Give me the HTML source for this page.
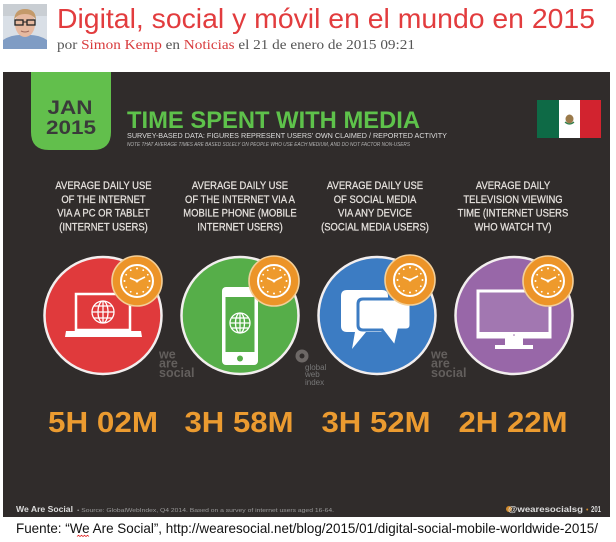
<!DOCTYPE html>
<html><head><meta charset="utf-8"><style>
html,body{margin:0;padding:0;background:#fff;}
svg{display:block;}
</style></head><body>
<svg width="616" height="542" viewBox="0 0 616 542" xmlns="http://www.w3.org/2000/svg" font-family="'Liberation Sans', sans-serif">
<rect x="0" y="0" width="616" height="542" fill="#ffffff"/>
<!-- avatar -->
<g>
<rect x="3" y="4" width="44" height="45" fill="#d9dfe6"/>
<rect x="3" y="4" width="44" height="12" fill="#c9ced3"/>
<path d="M3 49 L3 40 Q12 34 25 35 Q38 34 47 40 L47 49 Z" fill="#7f9cc4"/>
<ellipse cx="25" cy="24" rx="10" ry="13" fill="#e6b9a0"/>
<path d="M14 20 Q15 9 25 9 Q36 9 36 20 Q33 14 25 14 Q17 14 14 20 Z" fill="#c49a6a"/>
<rect x="15" y="20" width="8" height="5" fill="none" stroke="#222" stroke-width="1.3"/>
<rect x="27" y="20" width="8" height="5" fill="none" stroke="#222" stroke-width="1.3"/>
<line x1="23" y1="22" x2="27" y2="22" stroke="#222" stroke-width="1"/>
<path d="M21 31 Q25 33 29 31" stroke="#a06a5a" stroke-width="1" fill="none"/>
</g>
<!-- header title -->
<text x="57" y="28" font-size="28" fill="#e23c3e" textLength="538" lengthAdjust="spacingAndGlyphs">Digital, social y móvil en el mundo en 2015</text>
<text x="57" y="49" font-family="'Liberation Serif', serif" font-size="13.5" fill="#555" textLength="358" lengthAdjust="spacingAndGlyphs">por <tspan fill="#d83a3c">Simon Kemp</tspan> en <tspan fill="#d83a3c">Noticias</tspan> el 21 de enero de 2015 09:21</text>

<!-- panel -->
<rect x="3" y="72" width="607" height="445" fill="#302c2b"/>
<!-- green tab -->
<path d="M31 72 H111 V132 Q111 150 93 150 H49 Q31 150 31 132 Z" fill="#62bf4c"/>
<text x="70" y="114" font-size="19.5" font-weight="bold" fill="#3a3a3a" text-anchor="middle" textLength="45" lengthAdjust="spacingAndGlyphs">JAN</text>
<text x="71" y="134" font-size="19.5" font-weight="bold" fill="#3a3a3a" text-anchor="middle" textLength="50" lengthAdjust="spacingAndGlyphs">2015</text>
<!-- title -->
<text x="127" y="128" font-size="24" font-weight="bold" fill="#5ec24b" textLength="293" lengthAdjust="spacingAndGlyphs">TIME SPENT WITH MEDIA</text>
<text x="127" y="138" font-size="7.5" fill="#dcdcdc" textLength="320" lengthAdjust="spacingAndGlyphs">SURVEY-BASED DATA: FIGURES REPRESENT USERS' OWN CLAIMED / REPORTED ACTIVITY</text>
<text x="127" y="146" font-size="5" font-style="italic" fill="#b5b5b5" textLength="283" lengthAdjust="spacingAndGlyphs">NOTE THAT AVERAGE TIMES ARE BASED SOLELY ON PEOPLE WHO USE EACH MEDIUM, AND DO NOT FACTOR NON-USERS</text>
<!-- flag -->
<rect x="537" y="100" width="22" height="38" fill="#0e6a46"/>
<rect x="559" y="100" width="21" height="38" fill="#ffffff"/>
<rect x="580" y="100" width="21" height="38" fill="#d2232f"/>
<ellipse cx="569.5" cy="119" rx="4" ry="4.5" fill="#9b7a4a"/>
<path d="M565 122 Q569.5 126 574 122" stroke="#2e7d4a" stroke-width="1.2" fill="none"/>

<!-- descriptions -->
<g font-size="11" fill="#e6e2de" text-anchor="middle" stroke="#e6e2de" stroke-width="0.25">
<g transform="translate(103.5,0) scale(0.86,1)">
<text x="0" y="189">AVERAGE DAILY USE</text>
<text x="0" y="203">OF THE INTERNET</text>
<text x="0" y="216.5">VIA A PC OR TABLET</text>
<text x="0" y="230.5">(INTERNET USERS)</text>
</g>
<g transform="translate(240,0) scale(0.86,1)">
<text x="0" y="189">AVERAGE DAILY USE</text>
<text x="0" y="203">OF THE INTERNET VIA A</text>
<text x="0" y="216.5">MOBILE PHONE (MOBILE</text>
<text x="0" y="230.5">INTERNET USERS)</text>
</g>
<g transform="translate(375,0) scale(0.86,1)">
<text x="0" y="189">AVERAGE DAILY USE</text>
<text x="0" y="203">OF SOCIAL MEDIA</text>
<text x="0" y="216.5">VIA ANY DEVICE</text>
<text x="0" y="230.5">(SOCIAL MEDIA USERS)</text>
</g>
<g transform="translate(513,0) scale(0.86,1)">
<text x="0" y="189">AVERAGE DAILY</text>
<text x="0" y="203">TELEVISION VIEWING</text>
<text x="0" y="216.5">TIME (INTERNET USERS</text>
<text x="0" y="230.5">WHO WATCH TV)</text>
</g>
</g>

<!-- circles -->
<circle cx="103" cy="315.5" r="58.5" fill="#e03a3c" stroke="#f2eeee" stroke-width="2.5"/>
<circle cx="240" cy="315.5" r="58.5" fill="#56ae49" stroke="#f2eeee" stroke-width="2.5"/>
<circle cx="377" cy="315.5" r="58.5" fill="#3c7cc3" stroke="#f2eeee" stroke-width="2.5"/>
<circle cx="514" cy="315.5" r="58.5" fill="#9867a8" stroke="#f2eeee" stroke-width="2.5"/>

<!-- laptop -->
<rect x="76" y="294" width="54" height="36" fill="none" stroke="#fff" stroke-width="2.5"/>
<path d="M66 331 H141 L142 337 H65 Z" fill="#fff"/>
<g stroke="#fff" stroke-width="1.3" fill="none">
<circle cx="103" cy="312" r="11"/>
<ellipse cx="103" cy="312" rx="5" ry="11"/>
<line x1="103" y1="301" x2="103" y2="323"/>
<line x1="92" y1="312" x2="114" y2="312"/>
<line x1="94" y1="306" x2="112" y2="306"/>
<line x1="94" y1="318" x2="112" y2="318"/>
</g>
<!-- phone -->
<rect x="222" y="287" width="36" height="78" rx="4" fill="#fff"/>
<rect x="225.5" y="297" width="29" height="55" fill="#56ae49"/>
<circle cx="240" cy="358.5" r="3" fill="#56ae49"/>
<g stroke="#fff" stroke-width="1.3" fill="none">
<circle cx="240" cy="323" r="10"/>
<ellipse cx="240" cy="323" rx="4.5" ry="10"/>
<line x1="240" y1="313" x2="240" y2="333"/>
<line x1="230" y1="323" x2="250" y2="323"/>
<line x1="232" y1="318" x2="248" y2="318"/>
<line x1="232" y1="328" x2="248" y2="328"/>
</g>
<!-- speech bubbles -->
<path d="M347 290 H382 Q388 290 388 296 V326 Q388 332 382 332 H366 L352 349 L355 332 H347 Q341 332 341 326 V296 Q341 290 347 290 Z" fill="#fff"/>
<path d="M363 299 H406 Q411 299 411 304 V325 Q411 330 406 330 H399 L395 347 L382 330 H363 Q358 330 358 325 V304 Q358 299 363 299 Z" fill="#fff" stroke="#3c7cc3" stroke-width="3"/>
<!-- TV -->
<rect x="478" y="291" width="72" height="46" fill="#a277b1" stroke="#fff" stroke-width="3"/>
<rect x="478" y="332" width="72" height="6" fill="#fff"/>
<rect x="505" y="338" width="18" height="8" fill="#fff"/>
<rect x="495" y="345" width="38" height="4" fill="#fff"/>
<circle cx="514" cy="335" r="0.8" fill="#9867a8"/>

<!-- clocks -->
<defs>
<g id="clk">
<circle r="25" fill="#ec9428" stroke="#f3cf98" stroke-width="1.6"/>
<circle r="16" fill="#ee9a2c" stroke="#fff" stroke-width="2"/>
<g fill="#fff">
<circle cx="0" cy="-12.5" r="1"/><circle cx="6.25" cy="-10.8" r="0.9"/><circle cx="10.8" cy="-6.25" r="0.9"/>
<circle cx="12.5" cy="0" r="1"/><circle cx="10.8" cy="6.25" r="0.9"/><circle cx="6.25" cy="10.8" r="0.9"/>
<circle cx="0" cy="12.5" r="1"/><circle cx="-6.25" cy="10.8" r="0.9"/><circle cx="-10.8" cy="6.25" r="0.9"/>
<circle cx="-12.5" cy="0" r="1"/><circle cx="-10.8" cy="-6.25" r="0.9"/><circle cx="-6.25" cy="-10.8" r="0.9"/>
<circle r="1.5"/>
</g>
<path d="M-7 -3 L0 0 L8 -4" stroke="#fff" stroke-width="1.6" fill="none"/>
</g>
</defs>
<use href="#clk" x="137" y="281"/>
<use href="#clk" x="274" y="281"/>
<use href="#clk" x="410" y="280"/>
<use href="#clk" x="548" y="281"/>

<!-- logos -->
<g font-size="12.5" font-weight="bold" fill="#635f5d">
<text x="159" y="358.5">we</text>
<text x="159" y="367.5">are</text>
<text x="159" y="377">social</text>
<text x="431" y="358.5">we</text>
<text x="431" y="367.5">are</text>
<text x="431" y="377">social</text>
</g>
<circle cx="302" cy="356" r="6.5" fill="#6d6866"/>
<circle cx="302" cy="356" r="2.5" fill="#302c2b"/>
<g font-size="8" fill="#777">
<text x="305" y="370">global</text>
<text x="305" y="377">web</text>
<text x="305" y="385">index</text>
</g>

<!-- numbers -->
<g font-size="29" font-weight="bold" fill="#eb9b30" text-anchor="middle">
<text x="103" y="432" textLength="110" lengthAdjust="spacingAndGlyphs">5H 02M</text>
<text x="239" y="432" textLength="109" lengthAdjust="spacingAndGlyphs">3H 58M</text>
<text x="376" y="432" textLength="109" lengthAdjust="spacingAndGlyphs">3H 52M</text>
<text x="513" y="432" textLength="109" lengthAdjust="spacingAndGlyphs">2H 22M</text>
</g>

<!-- footer -->
<text x="16" y="512" font-size="8.5" font-weight="bold" fill="#dcdcdc" textLength="57" lengthAdjust="spacingAndGlyphs">We Are Social</text>
<text x="77" y="512" font-size="5.5" fill="#9a9a9a" textLength="257" lengthAdjust="spacingAndGlyphs">• Source: GlobalWebIndex, Q4 2014. Based on a survey of internet users aged 16-64.</text>
<circle cx="509" cy="509" r="3" fill="#d08a2c"/>
<text x="508" y="512" font-size="8" font-weight="bold" fill="#dcdcdc" textLength="75" lengthAdjust="spacingAndGlyphs">@wearesocialsg</text>
<text x="586" y="512" font-size="7" fill="#d08a2c">•</text>
<text x="591" y="512" font-size="8" font-weight="bold" fill="#dcdcdc" textLength="10" lengthAdjust="spacingAndGlyphs">201</text>

<!-- caption -->
<text x="16" y="533" font-size="14" fill="#111" textLength="582" lengthAdjust="spacingAndGlyphs">Fuente: “We Are Social”, http://wearesocial.net/blog/2015/01/digital-social-mobile-worldwide-2015/</text>
<path d="M77 536.5 l1.5 -1.2 l1.5 1.2 l1.5 -1.2 l1.5 1.2 l1.5 -1.2 l1.5 1.2 l1.5 -1.2 l1.5 1.2" stroke="#e02020" stroke-width="0.8" fill="none"/>
</svg>
</body></html>
